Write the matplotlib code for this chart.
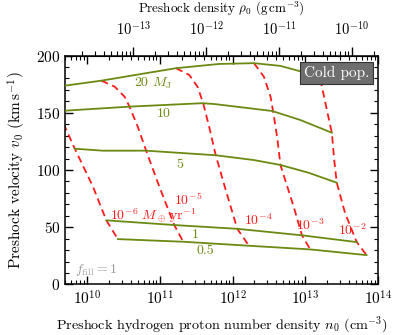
import numpy as np
import matplotlib
matplotlib.use("Agg")
import matplotlib.pyplot as plt
from matplotlib.ticker import MultipleLocator, LogLocator, NullFormatter, FixedLocator

plt.rcParams['font.family'] = 'serif'
plt.rcParams['font.serif'] = ['cmr10', 'DejaVu Serif']
plt.rcParams['mathtext.fontset'] = 'cm'
plt.rcParams['axes.formatter.use_mathtext'] = True
plt.rcParams['axes.unicode_minus'] = False

# constant-mass curves (log10 n0 [cm^-3], v0 [km/s])
masses = ['20', '10', '5', '1', '0.5']
logn_20 = [9.705, 10.197, 11.222, 11.815, 12.294, 12.658, 13.0, 13.205]
v_20 = [173.8, 178.1, 189.0, 192.7, 193.4, 191.0, 185.1, 179.6]
logn_10 = [9.705, 10.584, 11.586, 11.746, 12.543, 12.932, 13.364]
v_10 = [151.9, 155.4, 158.4, 157.7, 151.6, 143.7, 132.6]
logn_5 = [9.832, 10.219, 10.812, 11.769, 12.293, 12.658, 13.045, 13.432]
v_5 = [118.6, 116.9, 116.9, 112.9, 108.7, 104.4, 97.6, 88.9]
logn_1 = [10.265, 11.199, 12.065, 12.954, 13.706]
v_1 = [56.0, 51.9, 48.6, 42.9, 37.0]
logn_05 = [10.424, 11.322, 12.225, 13.068, 13.842]
v_05 = [39.6, 37.3, 33.8, 30.6, 25.6]

# constant accretion-rate curves
rates = ['-6', '-5', '-4', '-3', '-2']
logn_r6 = [9.62, 9.705, 9.832, 10.082, 10.265, 10.424]
v_r6 = [150.0, 136.5, 118.6, 85.4, 56.0, 39.6]
logn_r5 = [10.197, 10.379, 10.516, 10.584, 10.697, 10.812, 10.994, 11.199, 11.322]
v_r5 = [178.1, 172.9, 164.1, 155.4, 137.9, 116.9, 85.4, 51.9, 37.3]
logn_r4 = [11.222, 11.404, 11.518, 11.596, 11.678, 11.769, 11.906, 12.065, 12.225]
v_r4 = [189.0, 183.1, 172.9, 158.4, 137.9, 112.9, 82.5, 48.6, 33.8]
logn_r3 = [12.294, 12.430, 12.522, 12.557, 12.612, 12.658, 12.840, 12.954, 13.068]
v_r3 = [193.4, 181.6, 164.1, 151.2, 129.1, 104.4, 67.9, 42.9, 30.6]
logn_r2 = [13.205, 13.296, 13.364, 13.397, 13.432, 13.547, 13.706, 13.842]
v_r2 = [179.6, 152.5, 132.6, 108.7, 88.9, 62.1, 37.0, 25.6]

rho_ticks = [1e-13, 1e-12, 1e-11, 1e-10]

green = '#6b8a12'
red = '#ff1a1a'

fig = plt.figure(figsize=(4.07, 3.35), dpi=100)
ax = fig.add_axes([0.160, 0.151, 0.769, 0.683])

mass_curves = [(logn_20, v_20), (logn_10, v_10), (logn_5, v_5), (logn_1, v_1), (logn_05, v_05)]
for ln, v in mass_curves:
    ax.plot(10 ** np.array(ln), v, color=green, lw=1.3, zorder=3)

rate_curves = [(logn_r6, v_r6), (logn_r5, v_r5), (logn_r4, v_r4), (logn_r3, v_r3), (logn_r2, v_r2)]
for ln, v in rate_curves:
    ax.plot(10 ** np.array(ln), v, color=red, lw=1.3, ls=(0, (4, 2.5)), zorder=2)

ax.set_xscale('log')
ax.set_xlim(5e9, 1e14)
ax.set_ylim(0, 200)
ax.yaxis.set_major_locator(MultipleLocator(50))
ax.yaxis.set_minor_locator(MultipleLocator(10))
ax.xaxis.set_major_locator(LogLocator(base=10, numticks=10))
ax.xaxis.set_minor_locator(LogLocator(base=10, subs=np.arange(2, 10), numticks=20))
ax.xaxis.set_minor_formatter(NullFormatter())
ax.tick_params(which='both', direction='in', right=True, top=True, labelsize=11)
ax.tick_params(which='major', length=5.5, width=1)
ax.tick_params(which='minor', length=3, width=0.8)
for s in ax.spines.values():
    s.set_linewidth(1.1)

ax.set_xlabel(r'Preshock hydrogen proton number density $n_0$ (cm$^{-3}$)', fontsize=10.2, labelpad=5)
ax.set_ylabel(r'Preshock velocity $v_0$ (km$\,$s$^{-1}$)', fontsize=11, labelpad=6)

conv = 2.31e-24
top = ax.secondary_xaxis('top', functions=(lambda n: n * conv, lambda r: r / conv))
top.set_xscale('log')
top.xaxis.set_major_locator(FixedLocator(rho_ticks))
top.xaxis.set_minor_locator(LogLocator(base=10, subs=np.arange(2, 10), numticks=20))
top.xaxis.set_minor_formatter(NullFormatter())
top.tick_params(which='both', direction='out', labelsize=10.5)
top.tick_params(which='major', length=6.5, width=1, pad=5.5)
top.tick_params(which='minor', length=3.5, width=0.8)
top.set_xlabel(r'Preshock density $\rho_0$ (g$\,$cm$^{-3}$)', fontsize=9.4, labelpad=6)

# curve labels
ax.text(10 ** 10.64, 176, r'20 $M_{\rm J}$', color=green, fontsize=10, ha='left', va='center')
ax.text(10 ** 11.05, 149, '10', color=green, fontsize=10, ha='center', va='center')
ax.text(10 ** 11.28, 104, '5', color=green, fontsize=10, ha='center', va='center')
ax.text(10 ** 11.49, 43, '1', color=green, fontsize=10, ha='center', va='center')
ax.text(10 ** 11.63, 29.4, '0.5', color=green, fontsize=10, ha='center', va='center')

ax.text(10 ** 10.31, 59.7, r'$10^{-6}\ M_\oplus\,{\rm yr}^{-1}$', color=red, fontsize=10, ha='left', va='center')
ax.text(10 ** 11.39, 73.5, r'$10^{-5}$', color=red, fontsize=10, ha='center', va='center')
ax.text(10 ** 12.35, 56, r'$10^{-4}$', color=red, fontsize=10, ha='center', va='center')
ax.text(10 ** 13.07, 52, r'$10^{-3}$', color=red, fontsize=10, ha='center', va='center')
ax.text(10 ** 13.65, 47.5, r'$10^{-2}$', color=red, fontsize=10, ha='center', va='center')

ax.text(10 ** 9.83, 13, r'$f_{\rm fill} = 1$', color='#9a9a9a', fontsize=10, ha='left', va='center')
ax.text(0.868, 0.924, 'Cold pop.', transform=ax.transAxes, color='white', fontsize=11,
        ha='center', va='center', zorder=5,
        bbox=dict(boxstyle='square,pad=0.25', fc='#6e6e6e', ec='#333333', lw=0.8))

fig.savefig('out.png', dpi=100)
